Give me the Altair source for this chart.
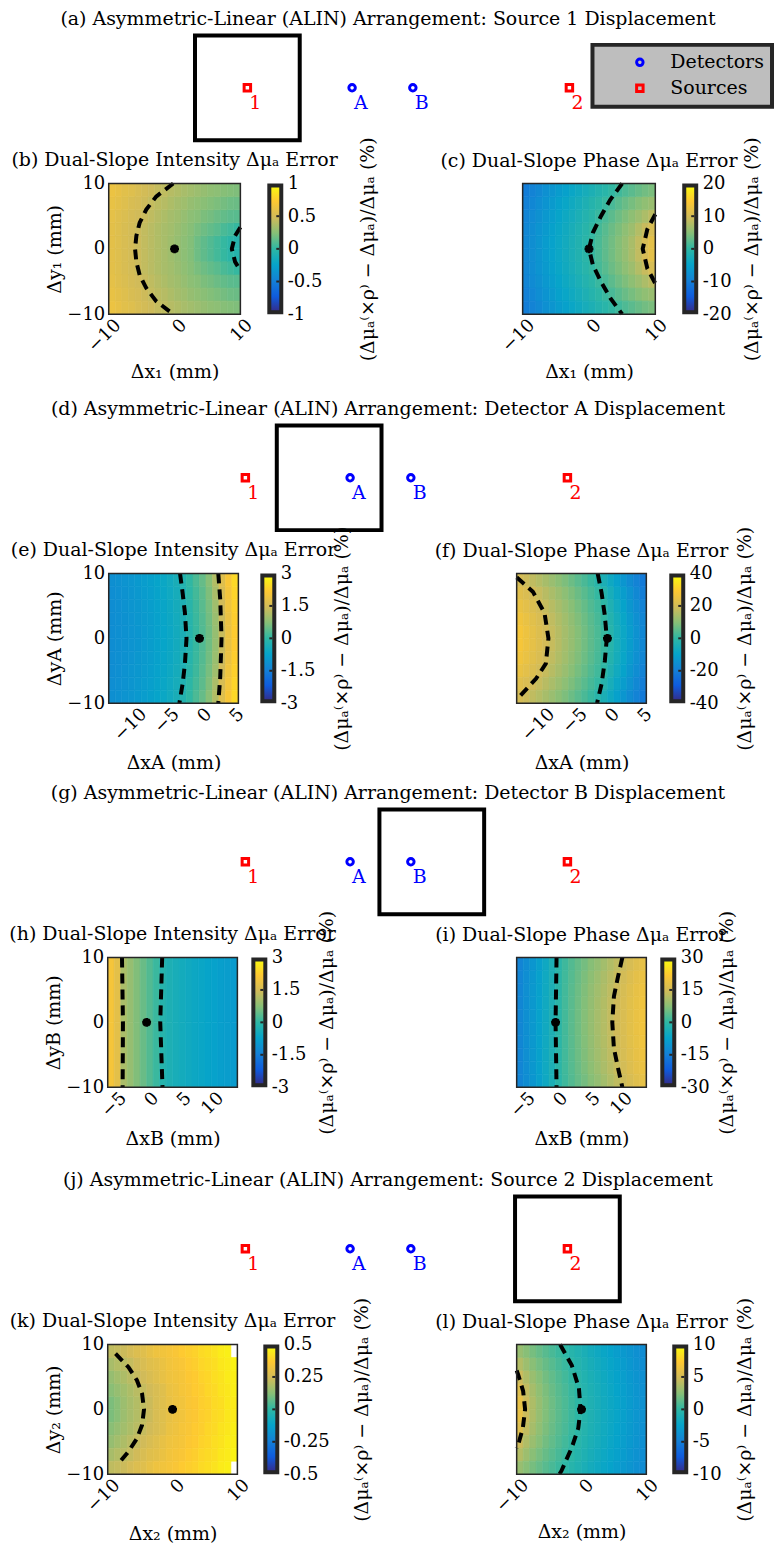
import altair as alt
import pandas as pd

SERIF = "DejaVu Serif"
INK = "#262626"
RED = "#FF0000"
BLUE = "#0000FF"
PARULA = ["#352A87", "#0F5CDD", "#1481D6", "#06A4CA", "#2EB7A4",
          "#87BF77", "#D1BB59", "#FEC832", "#F9FB0E"]
PX_PER_MM = 5.25          # scale of the arrangement sketches
FIG_W = 776

# ---------------------------------------------------------------- probe layout
OPTODE_LABELS = ["1", "A", "B", "2"]
OPTODE_POS = [0.0, 20.0, 31.6, 61.5]          # mm along the line, from source 1
OPTODE_Y = [0.0, 0.0, 0.0, 0.0]
OPTODE_KIND = ["Sources", "Detectors", "Detectors", "Sources"]
KINDS = ["Detectors", "Sources"]

SKETCH_TITLES = [
    "(a) Asymmetric-Linear (ALIN) Arrangement: Source 1 Displacement",
    "(d) Asymmetric-Linear (ALIN) Arrangement: Detector A Displacement",
    "(g) Asymmetric-Linear (ALIN) Arrangement: Detector B Displacement",
    "(j) Asymmetric-Linear (ALIN) Arrangement: Source 2 Displacement",
]
SCAN_X = [(-10.0, 10.0), (6.0, 26.0), (25.6, 45.6), (51.5, 71.5)]
SCAN_Y = (-10.0, 10.0)

# ---------------------------------------------------------------- error maps
# 1 mm columns across the scanned x range; rows are |y| bands (mirrored in y)
BANDS5 = [(0, 2), (2, 4), (4, 6), (6, 8), (8, 10)]
BAND1 = [(0, 10)]
X_S = (-10, 10)
X_A = (-14, 6)
X_B = (-6, 14)

# (b) source 1, intensity
B_ROWS = [
    [0.60, 0.57, 0.54, 0.51, 0.48, 0.45, 0.42, 0.39, 0.36, 0.33, 0.30, 0.27, 0.24, 0.18, 0.14, 0.10, 0.06, 0.02, -0.02, -0.05],
    [0.60, 0.57, 0.54, 0.51, 0.48, 0.45, 0.42, 0.39, 0.36, 0.34, 0.31, 0.28, 0.25, 0.21, 0.18, 0.15, 0.12, 0.08, 0.05, 0.02],
    [0.61, 0.58, 0.55, 0.52, 0.50, 0.47, 0.44, 0.41, 0.38, 0.35, 0.33, 0.30, 0.27, 0.25, 0.22, 0.20, 0.17, 0.15, 0.13, 0.12],
    [0.63, 0.60, 0.57, 0.54, 0.52, 0.49, 0.46, 0.43, 0.41, 0.38, 0.35, 0.33, 0.30, 0.28, 0.26, 0.24, 0.22, 0.20, 0.18, 0.17],
    [0.65, 0.62, 0.59, 0.57, 0.54, 0.51, 0.49, 0.46, 0.44, 0.41, 0.39, 0.36, 0.34, 0.32, 0.30, 0.28, 0.27, 0.25, 0.24, 0.23],
]
# (c) source 1, phase
C_ROWS = [
    [-9.0, -8.1, -7.1, -6.2, -5.3, -4.3, -3.4, -2.4, -1.5, -0.5, 0.5, 1.6, 2.7, 3.8, 4.9, 6.0, 7.3, 8.9, 10.5, 12.0],
    [-9.2, -8.3, -7.3, -6.4, -5.4, -4.5, -3.6, -2.6, -1.7, -0.8, 0.2, 1.3, 2.3, 3.4, 4.4, 5.5, 6.5, 8.0, 9.4, 10.7],
    [-9.5, -8.6, -7.7, -6.7, -5.8, -4.9, -4.0, -3.1, -2.2, -1.3, -0.4, 0.6, 1.6, 2.6, 3.6, 4.5, 5.5, 6.4, 7.5, 8.6],
    [-10.0, -9.1, -8.2, -7.3, -6.4, -5.5, -4.6, -3.7, -2.9, -2.0, -1.1, -0.3, 0.6, 1.5, 2.4, 3.3, 4.1, 4.9, 5.6, 6.2],
    [-10.6, -9.7, -8.8, -7.9, -7.1, -6.2, -5.4, -4.5, -3.7, -2.9, -2.1, -1.3, -0.6, 0.2, 1.0, 1.8, 2.5, 3.2, 3.8, 4.3],
]
# (e) detector A, intensity
E_ROWS = [
    [-1.25, -1.20, -1.15, -1.10, -1.04, -0.97, -0.90, -0.82, -0.73, -0.63, -0.50, -0.35, -0.15, 0.08, 0.30, 0.55, 0.90, 1.40, 1.90, 2.30],
    [-1.25, -1.20, -1.15, -1.10, -1.03, -0.96, -0.89, -0.81, -0.72, -0.62, -0.49, -0.33, -0.13, 0.10, 0.32, 0.58, 0.94, 1.44, 1.93, 2.33],
    [-1.24, -1.19, -1.14, -1.08, -1.02, -0.95, -0.88, -0.80, -0.70, -0.60, -0.46, -0.30, -0.10, 0.13, 0.36, 0.62, 1.00, 1.50, 2.00, 2.37],
    [-1.23, -1.18, -1.13, -1.07, -1.00, -0.93, -0.86, -0.78, -0.68, -0.57, -0.43, -0.25, -0.04, 0.18, 0.40, 0.68, 1.10, 1.60, 2.06, 2.42],
    [-1.20, -1.15, -1.10, -1.05, -0.98, -0.91, -0.83, -0.75, -0.65, -0.53, -0.38, -0.20, 0.02, 0.25, 0.47, 0.76, 1.20, 1.72, 2.15, 2.48],
]
# (f) detector A, phase
F_ROWS = [
    [28.2, 26.3, 24.4, 22.5, 20.6, 18.5, 16.3, 14.1, 12.0, 9.8, 7.6, 5.4, 3.3, 1.1, -1.7, -5.2, -8.6, -12.0, -15.2, -18.2],
    [27.2, 25.4, 23.6, 21.7, 19.9, 17.7, 15.6, 13.5, 11.3, 9.2, 7.1, 4.9, 2.8, 0.6, -2.4, -5.9, -9.2, -12.6, -15.7, -18.7],
    [25.6, 23.9, 22.2, 20.5, 18.5, 16.5, 14.5, 12.4, 10.3, 8.2, 6.2, 4.1, 2.0, -0.2, -3.6, -7.0, -10.3, -13.6, -16.6, -19.5],
    [23.4, 21.9, 20.3, 18.5, 16.6, 14.7, 12.8, 10.8, 8.9, 6.8, 4.8, 2.8, 0.7, -2.1, -5.4, -8.7, -11.9, -15.0, -17.9, -20.7],
    [20.8, 19.3, 17.7, 16.1, 14.3, 12.5, 10.7, 8.9, 7.0, 5.0, 3.1, 1.1, -1.3, -4.5, -7.7, -10.9, -13.9, -16.8, -19.5, -22.0],
]
# (h) detector B, intensity
H_ROWS = [
    [2.10, 1.80, 1.10, 0.90, 0.70, 0.50, 0.30, 0.10, -0.15, -0.30, -0.40, -0.48, -0.55, -0.62, -0.68, -0.74, -0.80, -0.85, -0.90, -0.95],
]
# (i) detector B, phase
I_ROWS = [
    [-14.0, -12.0, -10.0, -8.0, -5.5, -3.0, -0.5, 1.8, 3.8, 5.6, 7.3, 9.0, 10.6, 12.1, 13.6, 15.0, 16.4, 17.8, 19.1, 20.3],
    [-14.0, -12.0, -10.0, -8.0, -5.5, -3.0, -0.5, 1.75, 3.7, 5.5, 7.15, 8.85, 10.4, 11.9, 13.4, 14.8, 16.2, 17.6, 18.9, 20.1],
    [-14.1, -12.1, -10.1, -8.1, -5.6, -3.1, -0.6, 1.7, 3.6, 5.3, 6.95, 8.6, 10.1, 11.6, 13.1, 14.5, 15.9, 17.3, 18.6, 19.8],
    [-14.2, -12.2, -10.2, -8.2, -5.7, -3.2, -0.6, 1.55, 3.4, 5.05, 6.6, 8.15, 9.6, 11.1, 12.6, 14.0, 15.4, 16.8, 18.1, 19.3],
    [-14.4, -12.4, -10.4, -8.4, -5.9, -3.4, -0.7, 1.35, 3.1, 4.6, 6.0, 7.5, 8.8, 10.3, 11.8, 13.2, 14.6, 16.0, 17.3, 18.5],
]
# (k) source 2, intensity (corner cells outside the valid region left blank)
K_ROWS = [
    [0.11, 0.13, 0.16, 0.18, 0.20, 0.22, 0.24, 0.27, 0.29, 0.31, 0.33, 0.34, 0.36, 0.37, 0.39, 0.40, 0.42, 0.43, 0.45, 0.46],
    [0.13, 0.15, 0.17, 0.19, 0.21, 0.23, 0.25, 0.27, 0.29, 0.32, 0.33, 0.35, 0.36, 0.38, 0.39, 0.41, 0.42, 0.44, 0.45, 0.47],
    [0.15, 0.17, 0.19, 0.21, 0.23, 0.25, 0.27, 0.29, 0.31, 0.33, 0.34, 0.35, 0.37, 0.38, 0.40, 0.41, 0.43, 0.44, 0.46, 0.47],
    [0.18, 0.20, 0.21, 0.23, 0.25, 0.27, 0.29, 0.30, 0.32, 0.34, 0.35, 0.36, 0.38, 0.39, 0.41, 0.42, 0.43, 0.45, 0.46, 0.48],
    [0.22, 0.23, 0.24, 0.26, 0.28, 0.29, 0.31, 0.33, 0.34, 0.35, 0.36, 0.38, 0.39, 0.40, 0.42, 0.43, 0.44, 0.46, 0.47, None],
]
# (l) source 2, phase
L_ROWS = [
    [6.20, 4.80, 3.80, 3.00, 2.35, 1.80, 1.30, 0.85, 0.40, -0.05, -0.50, -0.90, -1.30, -1.70, -2.05, -2.40, -2.80, -3.15, -3.50, -3.85],
    [5.70, 4.50, 3.55, 2.80, 2.20, 1.67, 1.19, 0.75, 0.30, -0.15, -0.58, -0.98, -1.37, -1.76, -2.11, -2.47, -2.86, -3.21, -3.55, -3.90],
    [4.86, 3.88, 3.13, 2.49, 1.94, 1.45, 1.00, 0.57, 0.13, -0.31, -0.72, -1.11, -1.50, -1.87, -2.21, -2.58, -2.95, -3.30, -3.64, -3.98],
    [3.97, 3.23, 2.61, 2.07, 1.59, 1.14, 0.72, 0.30, -0.12, -0.54, -0.92, -1.31, -1.69, -2.03, -2.37, -2.75, -3.10, -3.44, -3.78, -4.11],
    [3.08, 2.53, 2.04, 1.59, 1.17, 0.77, 0.37, -0.04, -0.46, -0.82, -1.19, -1.56, -1.91, -2.23, -2.58, -2.96, -3.27, -3.60, -3.92, -4.24],
]

# dashed iso-error contours, (x, y) in mm
B_CURVES = [
    [(-0.2, 10), (-2.8, 8), (-4.3, 6), (-5.3, 4), (-5.8, 2), (-6.0, 0), (-5.8, -2), (-5.3, -4), (-4.3, -6), (-2.8, -8), (-0.2, -10)],
    [(10, 3.3), (9.2, 2), (8.7, 0), (9.2, -2), (10, -3.3)],
]
C_CURVES = [
    [(5.0, 10), (3.2, 7.5), (1.8, 5), (0.6, 2.5), (0.0, 0), (0.6, -2.5), (1.8, -5), (3.2, -7.5), (5.0, -10)],
    [(10, 5.3), (8.8, 3), (8.1, 0), (8.8, -3), (10, -5.3)],
]
E_CURVES = [
    [(-3.0, 10), (-2.6, 7), (-2.25, 4), (-2.0, 0), (-2.25, -4), (-2.6, -7), (-3.1, -10)],
    [(2.9, 10), (3.2, 6), (3.4, 0), (3.2, -6), (2.9, -10)],
]
F_CURVES = [
    [(-14, 9.4), (-13.4, 8.9), (-11.5, 7.2), (-9.7, 3.9), (-9.1, 0), (-9.5, -3.9), (-11.0, -6.2), (-13.4, -8.8), (-14, -9.3)],
    [(-1.5, 10), (-0.9, 7), (-0.4, 3.5), (-0.1, 0), (-0.4, -3.5), (-0.9, -7), (-1.6, -10)],
]
H_CURVES = [
    [(-3.8, 10), (-3.65, 0), (-3.7, -10)],
    [(2.4, 10), (2.1, 0), (2.45, -10)],
]
I_CURVES = [
    [(0.15, 10), (0.0, 0), (0.15, -10)],
    [(10.3, 10), (9.6, 6.9), (9.0, 4), (8.75, 0), (9.0, -4), (9.6, -6.9), (10.3, -10)],
]
K_CURVES = [
    [(-8.8, 8.6), (-6.8, 6.5), (-5.5, 4.5), (-4.7, 2.4), (-4.4, 0), (-4.7, -2.4), (-5.5, -4.5), (-6.8, -6.5), (-8.2, -8.2)],
]
L_CURVES = [
    [(-10, 6), (-9.75, 5.3), (-9.0, 2.8), (-8.7, 0), (-9.05, -2.9), (-9.75, -5.4), (-10, -6)],
    [(-3.3, 10), (-1.5, 6.8), (-0.4, 3.3), (-0.15, 0), (-0.5, -2.9), (-1.5, -5.9), (-3.1, -9.5), (-3.4, -10)],
]
NOMINAL = [(0.0, 0.0)]   # undisplaced optode position

INT_T = "Dual-Slope Intensity Δμₐ Error"
PHS_T = "Dual-Slope Phase Δμₐ Error"
CB_TITLE = "(Δμₐ⁽×ρ⁾ − Δμₐ)/Δμₐ (%)"

PANELS = [
    dict(title="(b) " + INT_T, xr=X_S, lim=1, bands=BANDS5, rows=B_ROWS, curves=B_CURVES,
         xticks=[-10, 0, 10], xlabel="Δx₁ (mm)", ylabel="Δy₁ (mm)", w=132, h=131, xty=57, cbx=86),
    dict(title="(c) " + PHS_T, xr=X_S, lim=20, bands=BANDS5, rows=C_ROWS, curves=C_CURVES,
         xticks=[-10, 0, 10], xlabel="Δx₁ (mm)", ylabel=None, w=133, h=131, xty=57, cbx=55),
    dict(title="(e) " + INT_T, xr=X_A, lim=3, bands=BANDS5, rows=E_ROWS, curves=E_CURVES,
         xticks=[-10, -5, 0, 5], xlabel="ΔxA (mm)", ylabel="ΔyA (mm)", w=130, h=130, xty=59, cbx=67),
    dict(title="(f) " + PHS_T, xr=X_A, lim=40, bands=BANDS5, rows=F_ROWS, curves=F_CURVES,
         xticks=[-10, -5, 0, 5], xlabel="ΔxA (mm)", ylabel=None, w=130, h=130, xty=59, cbx=61),
    dict(title="(h) " + INT_T, xr=X_B, lim=3, bands=BAND1, rows=H_ROWS, curves=H_CURVES,
         xticks=[-5, 0, 5, 10], xlabel="ΔxB (mm)", ylabel="ΔyB (mm)", w=130, h=130, xty=51, cbx=61),
    dict(title="(i) " + PHS_T, xr=X_B, lim=30, bands=BANDS5, rows=I_ROWS, curves=I_CURVES,
         xticks=[-5, 0, 5, 10], xlabel="ΔxB (mm)", ylabel=None, w=130, h=130, xty=51, cbx=52),
    dict(title="(k) " + INT_T, xr=X_S, lim=0.5, bands=BANDS5, rows=K_ROWS, curves=K_CURVES,
         xticks=[-10, 0, 10], xlabel="Δx₂ (mm)", ylabel="Δy₂ (mm)", w=130, h=130, xty=59, cbx=84),
    dict(title="(l) " + PHS_T, xr=X_S, lim=10, bands=BANDS5, rows=L_ROWS, curves=L_CURVES,
         xticks=[-10, 0, 10], xlabel="Δx₂ (mm)", ylabel=None, w=130, h=130, xty=57, cbx=58),
]

# layout (pixels)
CB_W = 12
ROW_GAPS = [(108, 29, 242, 29), (108, 24, 243, 25), (107, 16, 252, 16), (107, 28, 240, 28)]
SKETCH_H = 150
SKETCH_MARK_PX = 54
SKETCH_ORIGIN = [247, 245, 245, 245]
# vertical gap above each sketch; a flush-bounded row of panels takes no
# height in the outer stack, so the gap after a row also covers that row
ROW_H = [131, 130, 130, 130]
SKETCH_LEAD = [31, 110, 105, 108]
TXT = 19     # title / label font size
TICK = 18    # tick label font size

ASTERISK = "M-1,0L1,0M0,-1L0,1M-0.72,-0.72L0.72,0.72M-0.72,0.72L0.72,-0.72"


def spacer(w, h):
    return alt.Chart(pd.DataFrame({"s": [0]})).mark_rect(opacity=0).encode(
        x=alt.value(0), x2=alt.value(w), y=alt.value(0), y2=alt.value(h)
    ).properties(width=w, height=h)


def cell_table(x_lo, bands, rows):
    recs = []
    for (y_in, y_out), row in zip(bands, rows):
        for j, v in enumerate(row):
            if v is None:
                continue
            for sgn in (1, -1):
                a, b = sorted((sgn * y_in, sgn * y_out))
                recs.append({"x0": x_lo + j, "x1": x_lo + j + 1, "y0": a, "y1": b, "v": v})
    return pd.DataFrame(recs)


def curve_table(curves):
    recs = []
    for cid, pts in enumerate(curves):
        for k, (x, y) in enumerate(pts):
            recs.append({"cid": cid, "k": k, "x": x, "y": y})
    return pd.DataFrame(recs)


def heatmap(p):
    W, H = p["w"], p["h"]
    x_lo, x_hi = p["xr"]
    lim = p["lim"]
    xs = alt.Scale(domain=[x_lo, x_hi], nice=False, zero=False)
    ys = alt.Scale(domain=[-10, 10], nice=False, zero=False)
    cs = alt.Scale(domain=[-lim, lim], range=PARULA, interpolate="rgb")
    xaxis = alt.Axis(
        values=p["xticks"], labelAngle=-45, labelAlign="right", labelBaseline="middle",
        labelPadding=8, labelOffset=9, labelFlush=False, labelOverlap=False,
        labelFont=SERIF, labelFontSize=TICK, labelColor="black",
        ticks=False, domain=False, grid=False,
        title=p["xlabel"], titleFont=SERIF, titleFontSize=TXT, titleFontWeight="normal",
        titleColor="black", titleX=W / 2, titleY=p["xty"], titleAlign="center",
        titleBaseline="middle",
    )
    if p["ylabel"]:
        yaxis = alt.Axis(
            values=[-10, 0, 10], labelPadding=4, labelFlush=False, labelOverlap=False,
            labelFont=SERIF, labelFontSize=TICK, labelColor="black",
            ticks=False, domain=False, grid=False,
            title=p["ylabel"], titleFont=SERIF, titleFontSize=TXT, titleFontWeight="normal",
            titleColor="black", titleAngle=270, titleX=-54, titleY=H / 2,
            titleAlign="center", titleBaseline="middle",
        )
    else:
        yaxis = None

    def X(f):
        return alt.X(f, scale=xs, axis=xaxis)

    def Y(f):
        return alt.Y(f, scale=ys, axis=yaxis)

    cells = alt.Chart(cell_table(x_lo, p["bands"], p["rows"])).mark_rect(strokeWidth=0.6).encode(
        x=X("x0:Q"), x2="x1:Q", y=Y("y0:Q"), y2="y1:Q",
        color=alt.Color("v:Q", scale=cs, legend=None),
        stroke=alt.Stroke("v:Q", scale=cs, legend=None),
    )
    lines = alt.Chart(curve_table(p["curves"])).mark_line(
        color="black", strokeWidth=4, strokeDash=[10, 6], strokeCap="butt"
    ).encode(x=X("x:Q"), y=Y("y:Q"), detail="cid:N", order="k:Q")
    star = alt.Chart(pd.DataFrame(NOMINAL, columns=["x", "y"])).mark_point(
        shape=ASTERISK, size=80, strokeWidth=2.8, color="black", filled=False, opacity=1
    ).encode(x=X("x:Q"), y=Y("y:Q"))
    frame = alt.Chart(pd.DataFrame({"x0": [x_lo], "x1": [x_hi], "y0": [-10], "y1": [10]})).mark_rect(
        fillOpacity=0, stroke=INK, strokeWidth=1.5
    ).encode(x=X("x0:Q"), x2="x1:Q", y=Y("y0:Q"), y2="y1:Q")

    return alt.layer(cells, lines, star, frame).properties(
        width=W, height=H,
        title=alt.TitleParams(p["title"], font=SERIF, fontSize=TXT, fontWeight="normal",
                              color="black", anchor="middle", frame="group", offset=5),
    )


def colorbar(p):
    H = p["h"]
    lim = p["lim"]
    ticks = [-lim, -lim / 2, 0, lim / 2, lim]
    grad = alt.LinearGradient(
        gradient="linear",
        stops=[alt.GradientStop(color=c, offset=i / (len(PARULA) - 1)) for i, c in enumerate(PARULA)],
        x1=0, x2=0, y1=1, y2=0,
    )
    bar = alt.Chart(pd.DataFrame({"s": [0]})).mark_rect(fill=grad, stroke=INK, strokeWidth=4).encode(
        x=alt.value(0), x2=alt.value(CB_W), y=alt.value(2), y2=alt.value(H - 2)
    )
    axis = alt.Axis(
        orient="right", values=ticks, labelExpr="datum.value + ''",
        labelFont=SERIF, labelFontSize=TICK, labelColor="black", labelPadding=6,
        labelBaseline="middle", labelFlush=False, labelOverlap=False,
        ticks=False, domain=False, grid=False,
        title=CB_TITLE, titleFont=SERIF, titleFontSize=TXT, titleFontWeight="normal",
        titleColor="black", titleAngle=270, titleX=p["cbx"], titleY=H / 2,
        titleAlign="center", titleBaseline="middle",
    )
    marks = alt.Chart(pd.DataFrame({"t": ticks[1:-1]})).mark_rule(color=INK, strokeWidth=2).encode(
        y=alt.Y("t:Q", scale=alt.Scale(domain=[-lim, lim], nice=False, zero=False), axis=axis),
        x=alt.value(CB_W - 5), x2=alt.value(CB_W - 2),
    )
    return alt.layer(bar, marks).properties(width=CB_W, height=H)


def heat_row(i):
    left, right = PANELS[2 * i], PANELS[2 * i + 1]
    g0, g1, g2, g3 = ROW_GAPS[i]
    H = left["h"]
    return alt.hconcat(
        spacer(g0, H), heatmap(left), spacer(g1, H), colorbar(left),
        spacer(g2, H), heatmap(right), spacer(g3, H), colorbar(right),
        spacing=0, bounds="flush",
    ).resolve_scale(color="independent", stroke="independent", x="independent", y="independent")


def sketch(i):
    origin = SKETCH_ORIGIN[i]
    xs = alt.Scale(domain=[-origin / PX_PER_MM, (FIG_W - origin) / PX_PER_MM], nice=False, zero=False)
    ys = alt.Scale(domain=[-(SKETCH_H - SKETCH_MARK_PX) / PX_PER_MM, SKETCH_MARK_PX / PX_PER_MM],
                   nice=False, zero=False)
    opt = pd.DataFrame({"x": OPTODE_POS, "y": OPTODE_Y, "name": OPTODE_LABELS, "kind": OPTODE_KIND})
    box_df = pd.DataFrame({"x0": [SCAN_X[i][0]], "x1": [SCAN_X[i][1]],
                           "y0": [SCAN_Y[0]], "y1": [SCAN_Y[1]]})
    box = alt.Chart(box_df).mark_rect(fillOpacity=0, stroke="black", strokeWidth=4).encode(
        x=alt.X("x0:Q", scale=xs, axis=None), x2="x1:Q",
        y=alt.Y("y0:Q", scale=ys, axis=None), y2="y1:Q",
    )
    if i == 0:
        leg = alt.Legend(
            orient="none", legendX=593, legendY=11, title=None,
            fillColor="#BEBEBE", strokeColor=INK, padding=8,
            symbolOffset=30, labelOffset=21, rowPadding=6,
            symbolSize=42, symbolStrokeWidth=3,
            labelFont=SERIF, labelFontSize=TXT, labelColor="black",
        )
    else:
        leg = None
    pts = alt.Chart(opt).mark_point(filled=False, strokeWidth=3, size=42, opacity=1).encode(
        x=alt.X("x:Q", scale=xs, axis=None),
        y=alt.Y("y:Q", scale=ys, axis=None),
        color=alt.Color("kind:N", scale=alt.Scale(domain=KINDS, range=[BLUE, RED]), legend=leg),
        shape=alt.Shape("kind:N", scale=alt.Scale(domain=KINDS, range=["circle", "square"]), legend=leg),
    )
    layers = [box, pts]
    for kind, col in (("Sources", RED), ("Detectors", BLUE)):
        layers.append(
            alt.Chart(opt).transform_filter(alt.datum.kind == kind).mark_text(
                color=col, font=SERIF, fontSize=TXT, align="left", baseline="middle", dx=2, dy=15
            ).encode(x=alt.X("x:Q", scale=xs, axis=None), y=alt.Y("y:Q", scale=ys, axis=None),
                     text="name:N")
        )
    return alt.layer(*layers).properties(
        width=FIG_W, height=SKETCH_H,
        title=alt.TitleParams(SKETCH_TITLES[i], font=SERIF, fontSize=TXT, fontWeight="normal",
                              color="black", anchor="middle", frame="group", offset=4),
    )


rows = []
for i in range(4):
    lead = SKETCH_LEAD[i] + (ROW_H[i - 1] if i > 0 else 0)
    rows.append(spacer(FIG_W, lead))
    rows.append(sketch(i))
    rows.append(heat_row(i))

chart = alt.vconcat(*rows, spacing=0, bounds="flush").resolve_scale(
    color="independent", stroke="independent", shape="independent", x="independent", y="independent"
).properties(padding=0).configure_view(stroke="transparent").configure_legend(strokeWidth=4)

chart.save("out.html", embed_options={"renderer": "svg", "actions": False})
